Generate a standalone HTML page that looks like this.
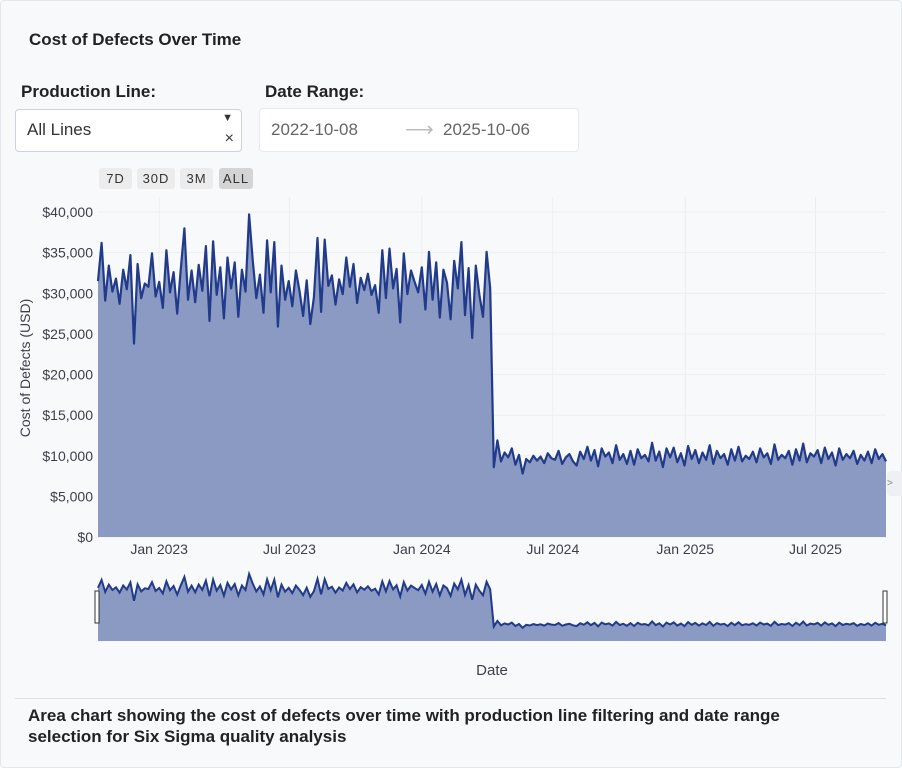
<!DOCTYPE html>
<html><head><meta charset="utf-8">
<style>
body{margin:0;width:902px;height:768px;background:#fff;font-family:"Liberation Sans",sans-serif;overflow:hidden;position:relative}
#card{position:absolute;left:0;top:0;width:900px;height:766px;background:#f8f9fb;border:1px solid #e3e6ea;border-radius:4px}
.t{position:absolute;color:#222;font-weight:bold}
.box{position:absolute;background:#fff;border:1px solid #ccd3dc;border-radius:4px;box-sizing:border-box}
.btn{position:absolute;top:167px;height:21px;background:#ececec;border-radius:3px;font-size:13px;letter-spacing:1px;color:#333;text-align:center;line-height:21px}
</style></head><body>
<div id="card">
<div class="t" style="left:28px;top:29px;font-size:17px">Cost of Defects Over Time</div>
<div class="t" style="left:20px;top:81px;font-size:17px">Production Line:</div>
<div class="t" style="left:264px;top:81px;font-size:17px">Date Range:</div>
<div class="box" style="left:14px;top:108px;width:227px;height:43px">
<span style="position:absolute;left:11px;top:10px;font-size:17px;color:#333">All Lines</span>
<span style="position:absolute;right:8px;top:2px;font-size:11px;color:#333">▼</span>
<span style="position:absolute;right:7px;top:20px;font-size:16px;color:#333">×</span>
</div>
<div class="box" style="left:258px;top:107px;width:320px;height:44px;border-color:#e6e9ee">
<span style="position:absolute;left:11px;top:11px;font-size:17px;color:#666">2022-10-08</span>
<span style="position:absolute;left:145px;top:8px;font-size:20px;color:#bbb">⟶</span>
<span style="position:absolute;left:183px;top:11px;font-size:17px;color:#666">2025-10-06</span>
</div>
<div class="btn" style="left:98px;width:33px">7D</div>
<div class="btn" style="left:136px;width:38px">30D</div>
<div class="btn" style="left:179px;width:33px">3M</div>
<div class="btn" style="left:218px;width:34px;background:#d4d4d4">ALL</div>
<svg id="chart" width="902" height="690" style="position:absolute;left:0;top:0"></svg>
<div style="position:absolute;left:14px;top:697px;width:871px;border-top:1px solid #dde1e6"></div>
<div class="t" style="left:27px;top:704px;font-size:17px;line-height:21px;width:830px">Area chart showing the cost of defects over time with production line filtering and date range selection for Six Sigma quality analysis</div>
<div style="position:absolute;left:886px;top:470px;width:16px;height:25px;background:#eef0f3;border-radius:4px 0 0 4px;font-size:10px;color:#888;line-height:25px">&gt;</div>
</div>
<script>
const startDate = "2022-10-08";
const stepDays = 5;
const costValues = [
31.5,36.2,29.1,33.4,30.2,31.8,28.7,32.9,30.5,34.7,
23.8,33.6,29.4,31.2,30.8,34.9,29.6,31.4,28.2,35.3,
30.1,32.6,27.5,33.0,38.0,29.2,32.8,28.9,33.5,30.3,
35.8,26.6,36.4,29.8,33.2,26.9,34.4,30.6,33.8,27.1,
32.9,30.2,39.7,34.1,29.4,32.3,27.6,36.5,30.1,36.3,
25.9,33.4,29.2,31.5,28.4,32.8,30.3,27.2,31.6,26.2,
29.5,36.8,27.7,36.6,30.9,32.2,28.6,31.7,29.9,34.4,
30.8,33.6,28.8,31.9,30.4,32.4,29.8,31.0,27.6,35.3,
29.4,35.5,30.6,33.0,26.4,34.9,29.9,32.8,31.4,30.1,
33.2,28.0,35.1,29.2,33.8,27.0,32.9,31.3,26.8,34.0,
30.6,36.3,27.3,33.1,24.5,33.4,29.8,27.1,35.1,30.6,
8.6,11.9,9.3,10.4,9.8,10.9,8.9,10.1,7.8,9.6,9.2,10.0,9.4,9.9,9.1,10.3,9.7,9.5,10.6,9.0,
9.8,10.2,9.3,8.8,10.5,9.6,11.1,9.4,10.7,8.7,10.9,9.9,10.4,9.1,11.3,9.5,10.2,9.0,10.6,8.9,
10.8,9.7,10.1,9.3,11.6,9.4,10.5,8.6,10.9,9.8,11.0,9.2,10.3,8.8,11.2,9.6,10.7,9.1,10.4,9.5,
11.3,9.0,10.6,9.7,10.2,8.9,10.8,9.4,11.1,9.3,10.0,9.6,10.5,9.2,10.9,9.8,10.3,9.0,11.4,9.5,
10.1,9.7,10.6,8.9,10.8,9.4,11.5,9.2,10.3,9.9,10.7,9.1,11.0,9.6,10.4,8.8,10.9,9.5,10.2,9.7,
10.6,9.0,10.1,9.4,10.5,9.1,10.8,9.6,10.2,9.3
];
const yTickValues = [0,5000,10000,15000,20000,25000,30000,35000,40000];
const yTickLabels = ["$0","$5,000","$10,000","$15,000","$20,000","$25,000","$30,000","$35,000","$40,000"];
const xTickDates = ["2023-01-01","2023-07-01","2024-01-01","2024-07-01","2025-01-01","2025-07-01"];
const xTickLabels = ["Jan 2023","Jul 2023","Jan 2024","Jul 2024","Jan 2025","Jul 2025"];

const NS="http://www.w3.org/2000/svg";
const svg=document.getElementById('chart');
const X0=97,X1=885,Y0=536,Y1=211, M0=640,M1=573;
const t0=Date.parse(startDate), DAY=86400000;
const dates=costValues.map((v,i)=>t0+i*stepDays*DAY);
const tEnd=dates[dates.length-1];
const xs=t=>X0+(t-t0)/(tEnd-t0)*(X1-X0);
const ys=v=>Y0-v/40000*(Y0-Y1);
const maxV=Math.max(...costValues)*1000;
const ym=v=>M0-v/maxV*(M0-M1);
function mk(tag,attrs){const e=document.createElementNS(NS,tag);for(const k in attrs)e.setAttribute(k,attrs[k]);svg.appendChild(e);return e;}
yTickValues.forEach((v,i)=>{
 const g=mk('line',{x1:X0,x2:X1,y1:ys(v),y2:ys(v),stroke:'#eceef1','stroke-width':1});
 
 
 const t=mk('text',{x:92,y:ys(v)+5,'text-anchor':'end','font-size':14,fill:'#3a3f48'});
 t.textContent=yTickLabels[i];
 
 
});
xTickDates.forEach((d,i)=>{
 const x=xs(Date.parse(d));
 const g=mk('line',{x1:x,x2:x,y1:Y1-15,y2:Y0,stroke:'#eceef1','stroke-width':1});
 
 
 const t=mk('text',{x:x,y:553,'text-anchor':'middle','font-size':14,fill:'#3a3f48'});
 t.textContent=xTickLabels[i];
 
 
});
let line='',area='';
costValues.forEach((v,i)=>{const p=xs(dates[i]).toFixed(1)+','+ys(v*1000).toFixed(1);line+=(i?'L':'M')+p;});
area=line+'L'+xs(tEnd)+','+Y0+'L'+X0+','+Y0+'Z';
const a=mk('path',{d:area,fill:'#8a9ac3'});


const l=mk('path',{d:line,fill:'none',stroke:'#213a8a','stroke-width':2.2,'stroke-linejoin':'round'});


let ml='';
costValues.forEach((v,i)=>{ml+=(i?'L':'M')+xs(dates[i]).toFixed(1)+','+ym(v*1000).toFixed(1);});
const ma=mk('path',{d:ml+'L'+xs(tEnd)+','+M0+'L'+X0+','+M0+'Z',fill:'#8a9ac3'});


const mln=mk('path',{d:ml,fill:'none',stroke:'#213a8a','stroke-width':2});


const h1=mk('rect',{x:94,y:590,width:4,height:32,fill:'#fff',stroke:'#333','stroke-width':1});


const h2=mk('rect',{x:882,y:590,width:4,height:32,fill:'#fff',stroke:'#333','stroke-width':1});


const yt=mk('text',{x:0,y:0,'font-size':14,fill:'#3a3f48','text-anchor':'middle',transform:'translate(29,367) rotate(-90)'});
yt.textContent='Cost of Defects (USD)';


const xt=mk('text',{x:491,y:674,'font-size':15,fill:'#3a3f48','text-anchor':'middle'});
xt.textContent='Date';


</script>
</body></html>
